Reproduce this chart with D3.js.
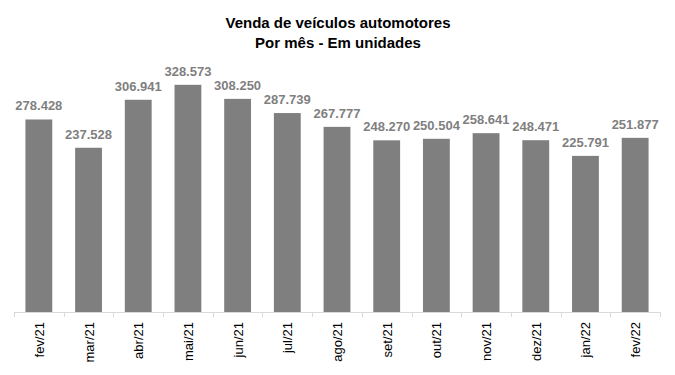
<!DOCTYPE html>
<html lang="pt">
<head>
<meta charset="utf-8">
<title>Venda de veículos automotores</title>
<script src="https://cdn.jsdelivr.net/npm/d3@7"></script>
<style>
  body { margin: 0; background: #fff; }
  text { font-family: "Liberation Sans", Arial, sans-serif; }
</style>
</head>
<body>
<script>
// chart data
var months = ["fev/21", "mar/21", "abr/21", "mai/21", "jun/21", "jul/21", "ago/21",
              "set/21", "out/21", "nov/21", "dez/21", "jan/22", "fev/22"];
var sales = [278428, 237528, 306941, 328573, 308250, 287739, 267777,
             248270, 250504, 258641, 248471, 225791, 251877];
var titleLines = ["Venda de veículos automotores", "Por mês - Em unidades"];

var w = 675, h = 375;
var left = 14, right = 660, base = 312;

var svg = d3.select("body").append("svg")
    .attr("width", w)
    .attr("height", h);

var x = d3.scaleBand()
    .domain(months)
    .range([left, right])
    .paddingInner(0.46)
    .paddingOuter(0.23);

var y = d3.scaleLinear()
    .domain([0, 350000])
    .range([base, 70]);

// ptBR number format, "." as thousands separator
var fmt = d3.formatLocale({decimal: ",", thousands: ".", grouping: [3], currency: ["R$", ""]}).format(",d");

// title
svg.selectAll(".title")
   .data(titleLines)
   .enter()
   .append("text")
   .attr("class", "title")
   .attr("x", 338)
   .attr("y", function(d, i) { return 28 + i * 20; })
   .attr("text-anchor", "middle")
   .attr("font-size", "15px")
   .attr("font-weight", "bold")
   .attr("fill", "#000")
   .text(function(d) { return d; });

// bars
svg.selectAll("rect")
   .data(sales)
   .enter()
   .append("rect")
   .attr("x", function(d, i) { return x(months[i]); })
   .attr("y", function(d) { return y(d); })
   .attr("width", x.bandwidth())
   .attr("height", function(d) { return base - y(d); })
   .attr("fill", "#7f7f7f");

// value labels
svg.selectAll(".val")
   .data(sales)
   .enter()
   .append("text")
   .attr("class", "val")
   .attr("x", function(d, i) { return x(months[i]) + x.bandwidth() / 2; })
   .attr("y", function(d) { return y(d) - 9; })
   .attr("text-anchor", "middle")
   .attr("font-size", "13px")
   .attr("font-weight", "bold")
   .attr("fill", "#7f7f7f")
   .text(function(d) { return fmt(d); });

// x axis: ticks between categories
var axis = svg.append("g");
axis.append("line")
    .attr("x1", left).attr("x2", right)
    .attr("y1", base + 0.5).attr("y2", base + 0.5)
    .attr("stroke", "#d9d9d9");

var step = x.step();
axis.selectAll(".tick")
    .data(d3.range(months.length + 1))
    .enter()
    .append("line")
    .attr("class", "tick")
    .attr("x1", function(i) { return Math.round(left + i * (right - left) / months.length) + 0.5; })
    .attr("x2", function(i) { return Math.round(left + i * (right - left) / months.length) + 0.5; })
    .attr("y1", base)
    .attr("y2", base + 5)
    .attr("stroke", "#d9d9d9");

axis.selectAll(".lbl")
    .data(months)
    .enter()
    .append("text")
    .attr("class", "lbl")
    .attr("transform", function(d) {
        return "translate(" + (x(d) + x.bandwidth() / 2 + 5) + "," + (base + 10) + ") rotate(-90)";
    })
    .attr("text-anchor", "end")
    .attr("font-size", "13px")
    .attr("fill", "#000")
    .text(function(d) { return d; });
</script>
</body>
</html>
